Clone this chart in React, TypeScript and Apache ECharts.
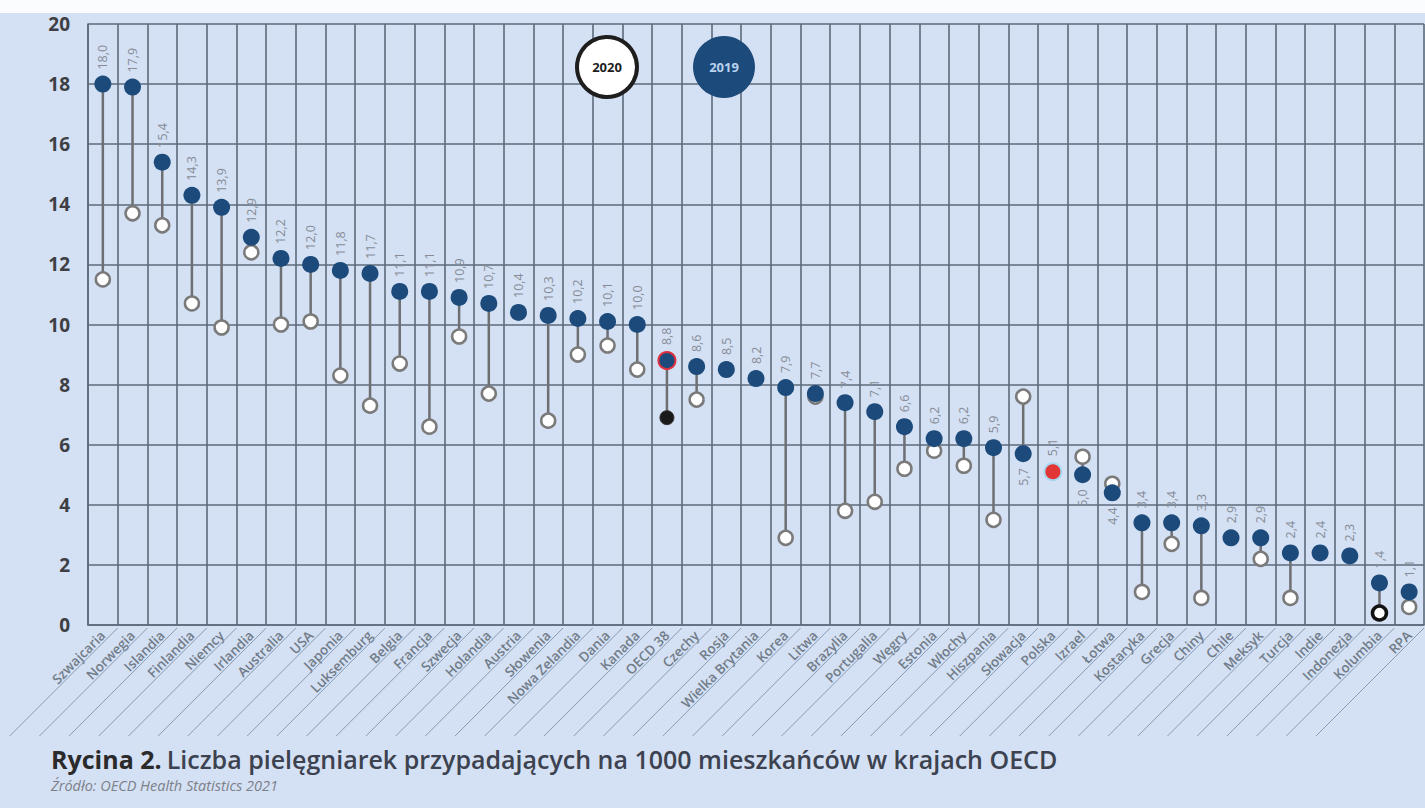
import React, { useEffect, useRef } from "react";
import * as echarts from "echarts";

const categories = [
  "Szwajcaria", "Norwegia", "Islandia", "Finlandia", "Niemcy", "Irlandia", "Australia", "USA",
  "Japonia", "Luksemburg", "Belgia", "Francja", "Szwecja", "Holandia", "Austria", "Słowenia",
  "Nowa Zelandia", "Dania", "Kanada", "OECD 38", "Czechy", "Rosja", "Wielka Brytania", "Korea",
  "Litwa", "Brazylia", "Portugalia", "Węgry", "Estonia", "Włochy", "Hiszpania", "Słowacja",
  "Polska", "Izrael", "Łotwa", "Kostaryka", "Grecja", "Chiny", "Chile", "Meksyk", "Turcja",
  "Indie", "Indonezja", "Kolumbia", "RPA",
];

const values2019 = [
  18.0, 17.9, 15.4, 14.3, 13.9, 12.9, 12.2, 12.0, 11.8, 11.7, 11.1, 11.1, 10.9, 10.7, 10.4,
  10.3, 10.2, 10.1, 10.0, 8.8, 8.6, 8.5, 8.2, 7.9, 7.7, 7.4, 7.1, 6.6, 6.2, 6.2, 5.9, 5.7, 5.1,
  5.0, 4.4, 3.4, 3.4, 3.3, 2.9, 2.9, 2.4, 2.4, 2.3, 1.4, 1.1,
];

const values2020 = [
  11.5, 13.7, 13.3, 10.7, 9.9, 12.4, 10.0, 10.1, 8.3, 7.3, 8.7, 6.6, 9.6, 7.7, null,
  6.8, 9.0, 9.3, 8.5, 6.9, 7.5, null, null, 2.9, 7.6, 3.8, 4.1, 5.2, 5.8, 5.3, 3.5, 7.6, null,
  5.6, 4.7, 1.1, 2.7, 0.9, null, 2.2, 0.9, null, null, 0.4, 0.6,
];

const yTicks = [0, 2, 4, 6, 8, 10, 12, 14, 16, 18, 20];

const avgName = "OECD 38";
const homeName = "Polska";
const outlinedName = "Kolumbia";

const FONT = "Open Sans";
const NAVY = "#1c4a7b";
const GRID = "#5c6b7c";
const BG = "#d4e0f3";

const fmt = (v: number) => v.toFixed(1).replace(".", ",");

export default function App() {
  const ref = useRef<HTMLDivElement>(null);

  useEffect(() => {
    document.body.style.margin = "0";
    const chart = echarts.init(ref.current!, null, { renderer: "svg" });

    const dots2019 = categories.map((name, i) => {
      const v = values2019[i];
      const other = values2020[i];
      const below = other != null && other > v;
      const item: any = {
        value: [i, v],
        label: {
          position: below ? "bottom" : "top",
          align: below ? "right" : "left",
        },
      };
      if (name === avgName) {
        item.itemStyle = { color: NAVY, borderColor: "#e03040", borderWidth: 2 };
      }
      if (name === homeName) {
        item.itemStyle = { color: "#e23636", borderColor: "#a8d8f0", borderWidth: 2 };
      }
      return item;
    });

    const dots2020 = categories
      .map((name, i) => {
        const v = values2020[i];
        if (v == null) return null;
        const item: any = { value: [i, v] };
        if (name === avgName) {
          item.itemStyle = { color: "#1a1a1a", borderColor: "#333", borderWidth: 1 };
        }
        if (name === outlinedName) {
          item.itemStyle = { color: "#fff", borderColor: "#111", borderWidth: 3.5 };
        }
        return item;
      })
      .filter(Boolean);

    const stems = categories
      .map((_, i) => (values2020[i] == null ? null : [i, values2019[i], values2020[i]]))
      .filter(Boolean);

    const option: any = {
      animation: false,
      backgroundColor: BG,
      title: {
        text:
          "{a|Rycina 2.} {b|Liczba pielęgniarek przypadających na 1000 mieszkańców w krajach OECD}",
        left: 46,
        top: 741,
        itemGap: 7,
        textStyle: {
          rich: {
            a: { fontFamily: FONT, fontSize: 25, fontWeight: "bold", color: "#2a2a2a" },
            b: { fontFamily: FONT, fontSize: 25, fontWeight: 600, color: "#3c4250" },
          },
        },
        subtext: "Źródło: OECD Health Statistics 2021",
        subtextStyle: { fontFamily: FONT, fontStyle: "italic", fontSize: 14.5, color: "#7c818a" },
      },
      grid: { left: 88, top: 24, width: 1336, height: 601, containLabel: false },
      xAxis: {
        type: "category",
        data: categories,
        boundaryGap: true,
        axisLine: { show: true, lineStyle: { color: GRID, width: 1.6 } },
        axisTick: { show: false },
        splitLine: { show: true, interval: 0, lineStyle: { color: GRID, width: 1.6 } },
        axisLabel: {
          interval: 0,
          rotate: 45,
          margin: 8,
          fontFamily: FONT,
          fontSize: 13.5,
          fontWeight: 600,
          color: "#717c89",
        },
      },
      yAxis: {
        type: "value",
        min: 0,
        max: 20,
        interval: 2,
        axisLine: { show: true, lineStyle: { color: GRID, width: 1.6 } },
        axisTick: { show: false },
        splitLine: { show: true, lineStyle: { color: GRID, width: 1.6 } },
        axisLabel: {
          margin: 18,
          fontFamily: FONT,
          fontSize: 19,
          fontWeight: "bold",
          color: "#3d3f44",
          formatter: (v: number) => (yTicks.includes(v) ? String(v) : ""),
        },
      },
      graphic: [
        { type: "rect", shape: { x: 0, y: 0, width: 1425, height: 13 }, style: { fill: "#fbfcfe" }, z: 10 },
        {
          type: "circle",
          shape: { cx: 607, cy: 67, r: 30 },
          style: { fill: "#ffffff", stroke: "#1e1e1e", lineWidth: 4 },
          z: 10,
        },
        {
          type: "text",
          x: 607,
          y: 67,
          style: {
            text: "2020",
            fill: "#1e1e1e",
            font: `bold 13px '${FONT}'`,
            align: "center",
            verticalAlign: "middle",
          },
          z: 11,
        },
        {
          type: "circle",
          shape: { cx: 724, cy: 67, r: 31 },
          style: { fill: NAVY },
          z: 10,
        },
        {
          type: "text",
          x: 724,
          y: 67,
          style: {
            text: "2019",
            fill: "#b9d2ee",
            font: `bold 13px '${FONT}'`,
            align: "center",
            verticalAlign: "middle",
          },
          z: 11,
        },
      ],
      series: [
        {
          type: "custom",
          name: "leaders",
          silent: true,
          clip: false,
          z: 1,
          renderItem: (params: any, api: any) => {
            const i = api.value(0);
            const p = api.coord([i, 0]);
            const w = api.size([1, 0])[0];
            const x0 = p[0] + w / 2;
            const y0 = p[1] + 3;
            return {
              type: "line",
              shape: { x1: x0, y1: y0, x2: x0 - 108, y2: y0 + 108 },
              style: { stroke: "#8a9ab0", lineWidth: 1 },
            };
          },
          data: categories.map((_, i) => [i, 0]),
        },
        {
          type: "custom",
          name: "stems",
          silent: true,
          z: 2,
          encode: { x: 0, y: [1, 2] },
          renderItem: (params: any, api: any) => {
            const i = api.value(0);
            const a = api.coord([i, api.value(1)]);
            const b = api.coord([i, api.value(2)]);
            return {
              type: "line",
              shape: { x1: a[0], y1: a[1], x2: b[0], y2: b[1] },
              style: { stroke: "#6d6f72", lineWidth: 2.5 },
            };
          },
          data: stems,
        },
        {
          type: "scatter",
          name: "2020",
          z: 3,
          symbol: "circle",
          symbolSize: 14,
          itemStyle: { color: "#ffffff", borderColor: "#7a7a7a", borderWidth: 2.5, opacity: 1 },
          data: dots2020,
        },
        {
          type: "scatter",
          name: "2019",
          z: 4,
          symbol: "circle",
          symbolSize: 17,
          itemStyle: { color: NAVY, opacity: 1 },
          label: {
            show: true,
            rotate: 90,
            distance: 6,
            verticalAlign: "middle",
            fontFamily: FONT,
            fontSize: 12.5,
            color: "#868d97",
            formatter: (p: any) => fmt(p.value[1]),
          },
          data: dots2019,
        },
      ],
    };

    chart.setOption(option);
    return () => chart.dispose();
  }, []);

  return <div ref={ref} style={{ width: 1425, height: 808, background: BG }} />;
}
